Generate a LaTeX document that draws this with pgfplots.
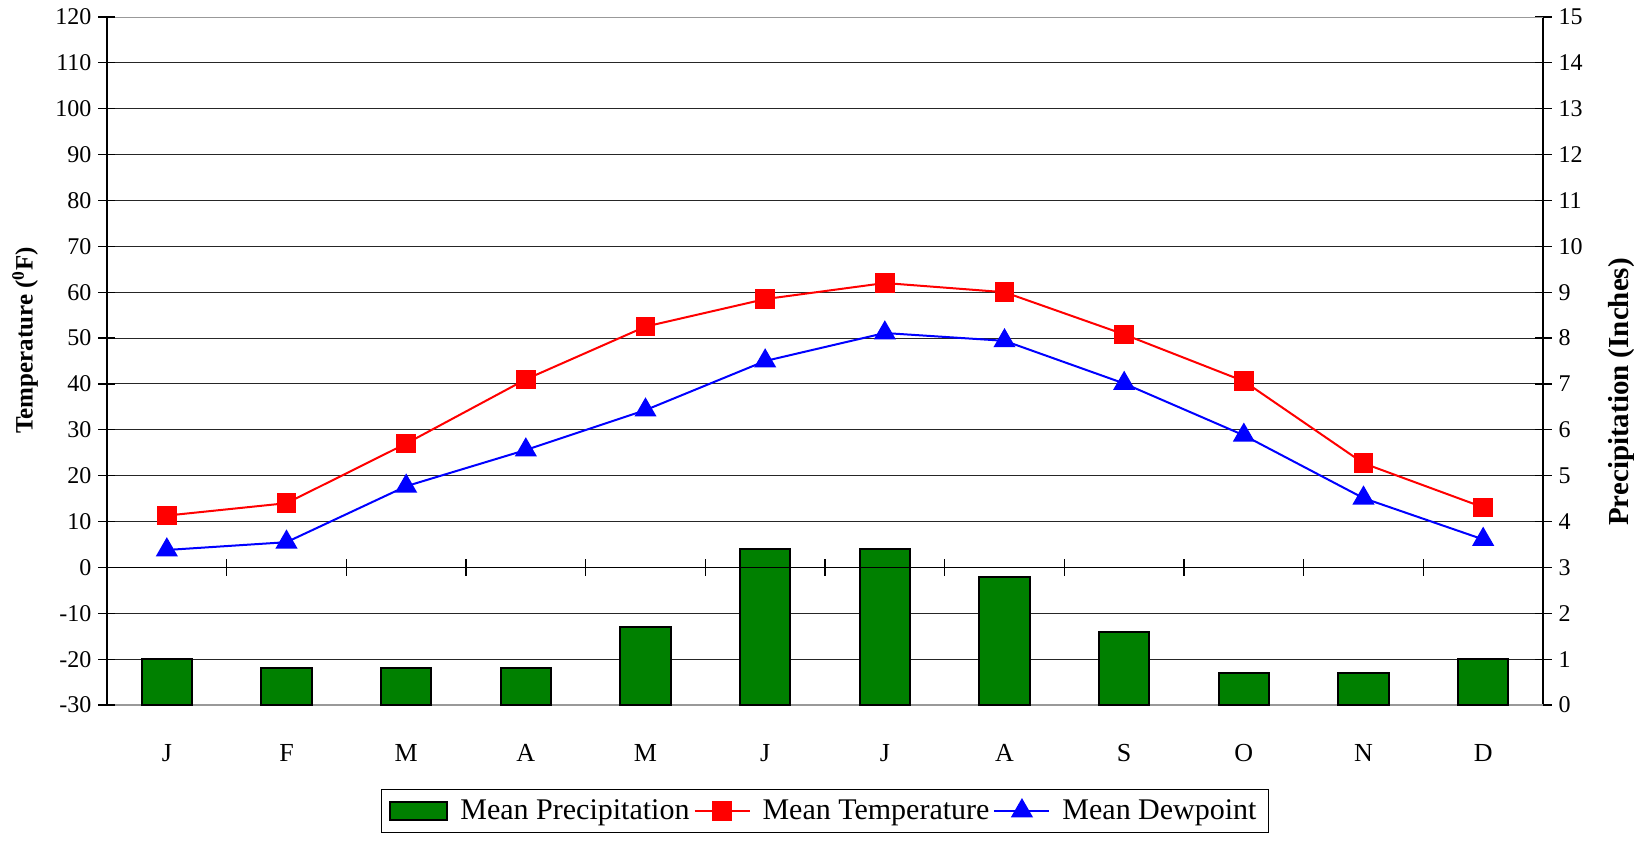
\documentclass[border=0pt]{standalone}
\usepackage{fontspec}
\setmainfont{Liberation Serif}
\usepackage{pgfplots}
\pgfplotsset{compat=1.18}
\definecolor{pgreen}{RGB}{0,128,0}
\definecolor{pred}{RGB}{255,0,0}
\definecolor{pblue}{RGB}{0,0,255}
\begin{document}
\begin{tikzpicture}
\pgfplotsset{
  common/.style={
    scale only axis, width=718pt, height=344pt,
    at={(0,0)}, anchor=south west,
    xmin=-0.5, xmax=11.5,
    /pgf/number format/assume math mode=true,
    tick label style={font=\fontsize{12}{14}\selectfont},
    axis line style={-},
    major tick length=8.5pt, tick align=center,
  },
  lineleg/.style={legend image code/.code={\draw[mark repeat=2,mark phase=2,##1] plot coordinates {(0pt,0pt) (13.75pt,0pt) (27.5pt,0pt)};}},
}
% precipitation axis (right)
\begin{axis}[common,
  ymin=0, ymax=15, ytick={0,1,...,15},
  axis y line*=right, axis x line*=bottom,
  x axis line style={draw=none},
  y axis line style={black, line width=0.8pt},
  ymajorgrids, grid style={black!85, line width=0.5pt},
  xtick={0,...,11}, xticklabels={J,F,M,A,M,J,J,A,S,O,N,D},
  x tick label style={font=\fontsize{13}{15}\selectfont, yshift=-12pt},
  major x tick style={draw=none},
  y tick style={black, line width=0.6pt},
  ylabel={\textbf{Precipitation (Inches)}},
  ylabel style={font=\fontsize{14.5}{16}\selectfont, at={(axis description cs:1.055,0.455)}, anchor=center},
]
\draw[black!40, line width=1pt] (rel axis cs:0,0) -- (rel axis cs:1,0);
\draw[black!40, line width=1pt] (rel axis cs:0,1) -- (rel axis cs:1,1);
\addplot[ybar, bar width=25.3pt, fill=pgreen, draw=black, line width=1pt] coordinates {
 (0,1.0) (1,0.8) (2,0.8) (3,0.8) (4,1.7) (5,3.4) (6,3.4) (7,2.8) (8,1.6) (9,0.7) (10,0.7) (11,1.0)};
\end{axis}
% temperature axis (left)
\begin{axis}[common,
  ymin=-30, ymax=120, ytick={-30,-20,...,120},
  axis y line*=left, axis x line*=middle,
  axis line style={black, line width=0.8pt},
  xtick={0.5,1.5,2.5,3.5,4.5,5.5,6.5,7.5,8.5,9.5,10.5}, xticklabels={},
  tick style={black, line width=0.6pt},
  ylabel={\textbf{Temperature (\textsuperscript{0}F)}},
  ylabel style={font=\fontsize{12.5}{14}\selectfont, at={(axis description cs:-0.057,0.53)}, anchor=center},
  legend style={at={(0.5,-0.122)}, anchor=north, legend columns=-1, draw=black, line width=0.5pt,
    font=\fontsize{15}{18}\selectfont, inner xsep=4pt, inner ysep=3pt,
    /tikz/every odd column/.append style={column sep=4pt}},
]
\addlegendimage{legend image code/.code={\draw[fill=pgreen, draw=black, line width=1pt] (0pt,-4.5pt) rectangle (28.5pt,4.5pt);}}
\addlegendentry{Mean Precipitation}
\addplot[pred, line width=1pt, mark=square*, mark size=4.4pt, mark options={solid, fill=pred, draw=pred}, lineleg] coordinates {
 (0,11.3) (1,14.0) (2,27.0) (3,41.0) (4,52.5) (5,58.5) (6,62.0) (7,60.0) (8,50.8) (9,40.6) (10,22.7) (11,13.1)};
\addlegendentry{Mean Temperature}
\addplot[pblue, line width=1pt, mark=triangle*, mark size=5.4pt, mark options={solid, fill=pblue, draw=pblue}, lineleg] coordinates {
 (0,3.8) (1,5.5) (2,17.7) (3,25.6) (4,34.3) (5,45.0) (6,51.1) (7,49.4) (8,40.1) (9,28.8) (10,15.1) (11,6.1)};
\addlegendentry{Mean Dewpoint}
\end{axis}
\pgfresetboundingbox
\path (-53.5pt,-68.5pt) rectangle (763.5pt,352.5pt);
\end{tikzpicture}
\end{document}
